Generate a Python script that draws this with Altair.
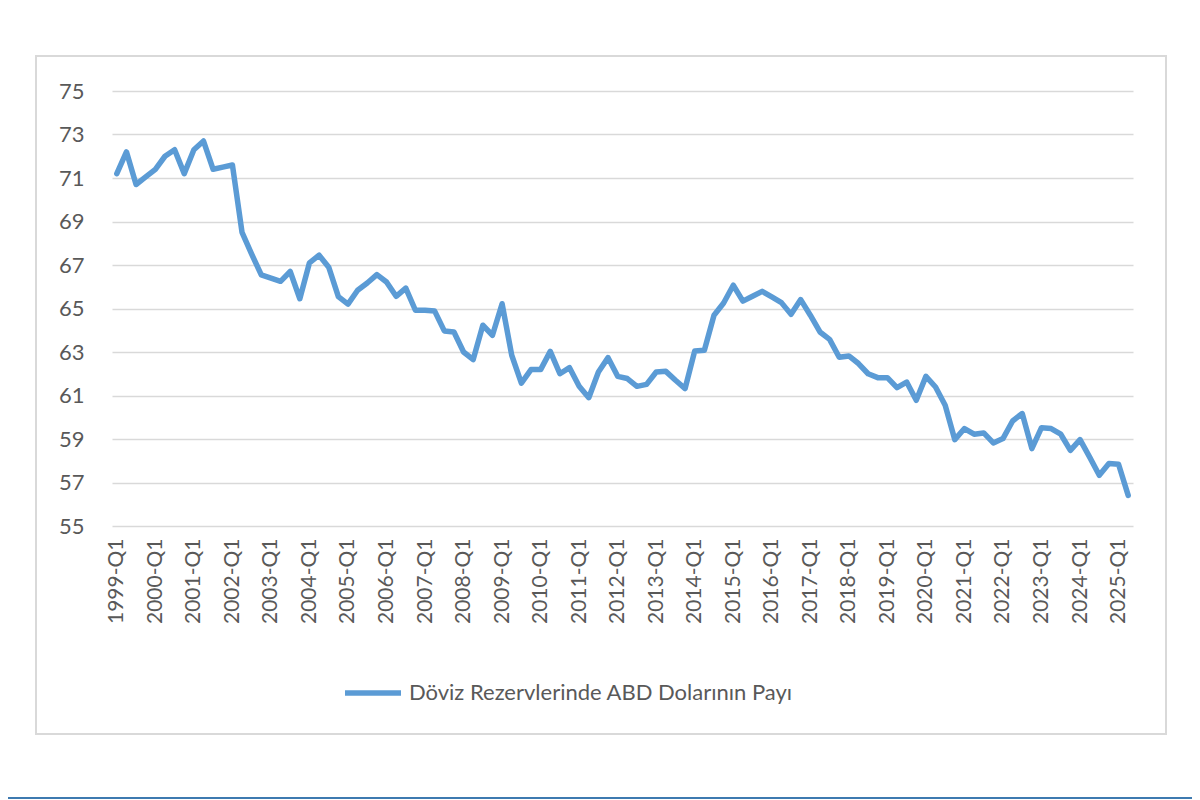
import altair as alt
import pandas as pd

# --- data -------------------------------------------------------------
years = list(range(1999, 2026))
quarters = [f"{y}-Q{q}" for y in years for q in (1, 2, 3, 4)][:106]  # 1999-Q1 .. 2025-Q2

usd_share = [
    71.2, 72.2, 70.7, 71.05, 71.4, 72.0, 72.3, 71.2, 72.3, 72.7, 71.4, 71.5,
    71.6, 68.5, 67.5, 66.55, 66.4, 66.25, 66.7, 65.45, 67.1, 67.45, 66.9, 65.55,
    65.2, 65.84, 66.17, 66.56, 66.22, 65.56, 65.94, 64.92, 64.92, 64.88, 63.97, 63.92,
    63.0, 62.65, 64.23, 63.77, 65.22, 62.85, 61.57, 62.19, 62.19, 63.03, 62.0, 62.28,
    61.43, 60.9, 62.08, 62.74, 61.88, 61.78, 61.42, 61.51, 62.08, 62.11, 61.7, 61.32,
    63.05, 63.08, 64.69, 65.25, 66.07, 65.34, 65.56, 65.79, 65.53, 65.27, 64.73, 65.41,
    64.69, 63.92, 63.58, 62.76, 62.82, 62.47, 62.0, 61.82, 61.82, 61.36, 61.62, 60.78,
    61.88, 61.39, 60.55, 58.97, 59.48, 59.22, 59.28, 58.82, 59.02, 59.83, 60.17, 58.56,
    59.52, 59.48, 59.22, 58.48, 58.97, 58.17, 57.33, 57.87, 57.84, 56.41,
]

series_name = "Döviz Rezervlerinde ABD Dolarının Payı"
y_ticks = [55, 57, 59, 61, 63, 65, 67, 69, 71, 73, 75]
x_label_values = quarters[::4]

df = pd.DataFrame({"quarter": quarters, "value": usd_share, "series": series_name})

FONT = "Lato"
TEXT = "#595959"
BLUE = "#5b9bd5"
GRID = "#d9d9d9"

base = alt.Chart(df)

line = base.mark_line(strokeWidth=5.5, strokeCap="round", strokeJoin="round").encode(
    x=alt.X(
        "quarter:O",
        sort=quarters,
        scale=alt.Scale(type="point", padding=0.5),
        axis=alt.Axis(
            values=x_label_values,
            labelAngle=-90,
            labelFontSize=21,
            labelColor=TEXT,
            labelFont=FONT,
            labelPadding=12,
            ticks=False,
            domain=False,
            grid=False,
            title=None,
        ),
    ),
    y=alt.Y(
        "value:Q",
        scale=alt.Scale(domain=[55, 75], nice=False, zero=False),
        axis=alt.Axis(
            values=y_ticks,
            labelFontSize=22,
            labelColor=TEXT,
            labelFont=FONT,
            labelPadding=28,
            ticks=False,
            domain=False,
            gridColor=GRID,
            gridWidth=1.5,
            title=None,
        ),
    ),
    color=alt.Color(
        "series:N",
        scale=alt.Scale(range=[BLUE]),
        legend=alt.Legend(
            title=None,
            orient="none",
            legendX=230,
            legendY=571,
            symbolType="stroke",
            symbolSize=3136,
            symbolStrokeWidth=5.5,
            labelFontSize=22,
            labelFont=FONT,
            labelColor=TEXT,
            labelOffset=5,
            labelLimit=800,
        ),
    ),
)

frame = base.mark_rect(fill=None, stroke=GRID, strokeWidth=1.8).encode(
    x=alt.value(-76), x2=alt.value(1054), y=alt.value(-35), y2=alt.value(643)
)

bottom_rule = base.mark_rule(color="#3d7ab0", strokeWidth=2).encode(
    x=alt.value(-104), x2=alt.value(1080), y=alt.value(707)
)

chart = (
    alt.layer(frame, bottom_rule, line)
    .properties(
        width=1021,
        height=435,
        autosize=alt.AutoSizeParams(type="none"),
        padding={"left": 104, "top": 83, "right": 59, "bottom": 275},
        background="white",
    )
    .configure_view(stroke=None)
)

chart.save("out.html", embed_options={"renderer": "svg", "actions": False})
